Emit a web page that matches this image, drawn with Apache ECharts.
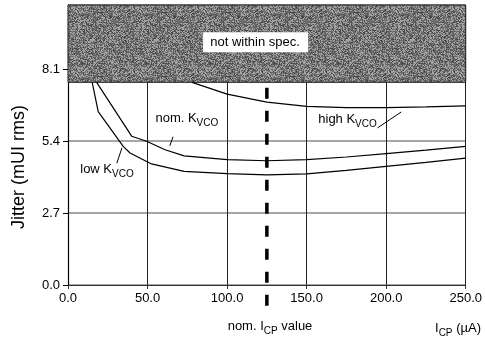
<!DOCTYPE html>
<html><head><meta charset="utf-8">
<script src="https://cdn.jsdelivr.net/npm/echarts@6/dist/echarts.min.js"></script>
<style>html,body{margin:0;padding:0;background:#fff}#c{width:485px;height:344px}</style>
</head><body><div id="c"></div>
<script>
// ---- data ----
const xTicks = [0, 50, 100, 150, 200, 250];
const yTicks = [0, 2.7, 5.4, 8.1];
const specLimit = 7.6;      // jitter spec limit (shaded above)
const nomICP = 125;         // nominal ICP value
const nomICPSpan = [7.4, -0.8];

const lowX  = [15.2, 19, 34.7, 39, 52.5, 73, 100, 125, 150, 175, 200, 225, 250];
const lowY  = [7.6, 6.5, 5.2, 4.95, 4.54, 4.26, 4.18, 4.13, 4.17, 4.3, 4.45, 4.6, 4.76];
const nomX  = [18, 40, 49.4, 61, 73, 100, 125, 150, 175, 200, 225, 250];
const nomY  = [7.6, 5.58, 5.39, 5.07, 4.84, 4.7, 4.66, 4.7, 4.8, 4.93, 5.06, 5.2];
const highX = [78, 100, 125, 150, 175, 200, 225, 250];
const highY = [7.6, 7.16, 6.86, 6.7, 6.65, 6.65, 6.68, 6.72];

// annotation leader lines [x1,y1,x2,y2] in data units
const leaderNom  = [64, 5.22, 66, 5.56];
const leaderLow  = [30.7, 4.57, 33.9, 5.14];
const leaderHigh = [194.5, 5.89, 209.5, 6.49];

const zip = (xs, ys) => xs.map((x, i) => [x, ys[i]]);
const FONT = '"Liberation Sans", Arial, sans-serif';

// deterministic speckle texture for the "not within spec" region
function makeTexture() {
  const n = 64, cv = document.createElement('canvas');
  cv.width = n; cv.height = n;
  const ctx = cv.getContext('2d');
  const img = ctx.createImageData(n, n);
  let s = 12345;
  for (let i = 0; i < n * n; i++) {
    s = (s * 1103515245 + 12345) & 0x7fffffff;
    const r = (s >> 8) % 100;
    const v = r < 35 ? 162 : (r < 55 ? 72 : 108);
    img.data[i * 4] = img.data[i * 4 + 1] = img.data[i * 4 + 2] = v;
    img.data[i * 4 + 3] = 255;
  }
  ctx.putImageData(img, 0, 0);
  return cv;
}

const chart = echarts.init(document.getElementById('c'), null, {renderer: 'canvas'});

const lineSeries = (name, xs, ys) => ({
  name, type: 'line', data: zip(xs, ys), showSymbol: false, smooth: false,
  lineStyle: {color: '#000', width: 1.2}, z: 5, silent: true
});
const leader = l => [{coord: [l[0], l[1]]}, {coord: [l[2], l[3]]}];

chart.setOption({
  animation: false,
  grid: {left: 68, right: 19, top: 5, bottom: 59},
  xAxis: {
    type: 'value', min: 0, max: 250, interval: 50,
    axisLine: {show: true, lineStyle: {color: '#333', width: 1}},
    axisTick: {show: true, length: 4, lineStyle: {color: '#333'}},
    axisLabel: {color: '#000', fontFamily: FONT, fontSize: 13, margin: 7,
      formatter: v => v.toFixed(1)},
    splitLine: {show: true, lineStyle: {color: '#222', width: 1}}
  },
  yAxis: {
    type: 'value', min: 0, max: 10.5, interval: 2.7,
    axisLine: {show: true, lineStyle: {color: '#000', width: 1.2}},
    axisTick: {show: true, length: 5, lineStyle: {color: '#000'}},
    axisLabel: {color: '#000', fontFamily: FONT, fontSize: 13, margin: 8,
      showMaxLabel: false, formatter: v => yTicks.some(t => Math.abs(t - v) < 1e-6) ? v.toFixed(1) : ''},
    splitLine: {show: true, lineStyle: {color: '#888', width: 1.5}}
  },
  series: [
    {
      type: 'line', data: [], silent: true,
      markArea: {
        silent: true,
        itemStyle: {color: {image: makeTexture(), repeat: 'repeat'}, borderColor: '#222', borderWidth: 1},
        data: [[{coord: [0, specLimit]}, {coord: [250, 10.5]}]],
        label: {show: false}
      },
      markLine: {
        silent: true, symbol: 'none', animation: false,
        label: {show: false},
        data: [leader(leaderNom), leader(leaderLow), leader(leaderHigh)],
        lineStyle: {color: '#000', width: 1, type: 'solid'}
      },
      z: 1
    },
    lineSeries('low', lowX, lowY),
    lineSeries('nom', nomX, nomY),
    lineSeries('high', highX, highY),
    {
      type: 'custom', data: [[nomICP]], clip: false, silent: true, z: 6,
      renderItem: (params, api) => {
        const a = api.coord([api.value(0), nomICPSpan[0]]);
        const b = api.coord([api.value(0), nomICPSpan[1]]);
        return {type: 'line', shape: {x1: a[0], y1: a[1], x2: b[0], y2: b[1]},
          style: {stroke: '#000', lineWidth: 3.5, lineDash: [11, 12]}};
      }
    }
  ]
});

// text annotations
const sub = {
  a: {fontFamily: FONT, fontSize: 13, color: '#000', lineHeight: 18, verticalAlign: 'top'},
  s: {fontFamily: FONT, fontSize: 10, color: '#000', lineHeight: 18, verticalAlign: 'top', padding: [6, 0, 0, 0]}
};
const px = (x, y) => chart.convertToPixel({gridIndex: 0}, [x, y]);
const lbl = (txt, p) => ({type: 'text', x: p[0], y: p[1], z: 20,
  style: {text: txt, rich: sub, align: 'center', verticalAlign: 'middle'}});

const pNom = px(74.7, 6.15), pLow = px(24.5, 4.24), pHigh = px(175.7, 6.11);
const pSpec = px(117.6, 9.1);

chart.setOption({
  graphic: [
    {type: 'rect', x: pSpec[0] - 52, y: pSpec[1] - 10, z: 10,
     shape: {width: 105, height: 20}, style: {fill: '#fff'}},
    {type: 'text', x: pSpec[0], y: pSpec[1], z: 11,
     style: {text: 'not within spec.', font: '13px ' + FONT, fill: '#000', align: 'center', verticalAlign: 'middle'}},
    {type: 'text', x: 19, y: 167, rotation: Math.PI / 2, z: 11,
     style: {text: 'Jitter (mUI rms)', font: '18px ' + FONT, fill: '#000', align: 'center', verticalAlign: 'middle'}},
    lbl('{a|nom. K}{s|VCO}', pNom),
    lbl('{a|low K}{s|VCO}', pLow),
    lbl('{a|high K}{s|VCO}', pHigh),
    lbl('{a|nom. I}{s|CP}{a| value}', [270, 329]),
    lbl('{a|I}{s|CP}{a| (µA)}', [458, 331])
  ]
});
</script></body></html>
